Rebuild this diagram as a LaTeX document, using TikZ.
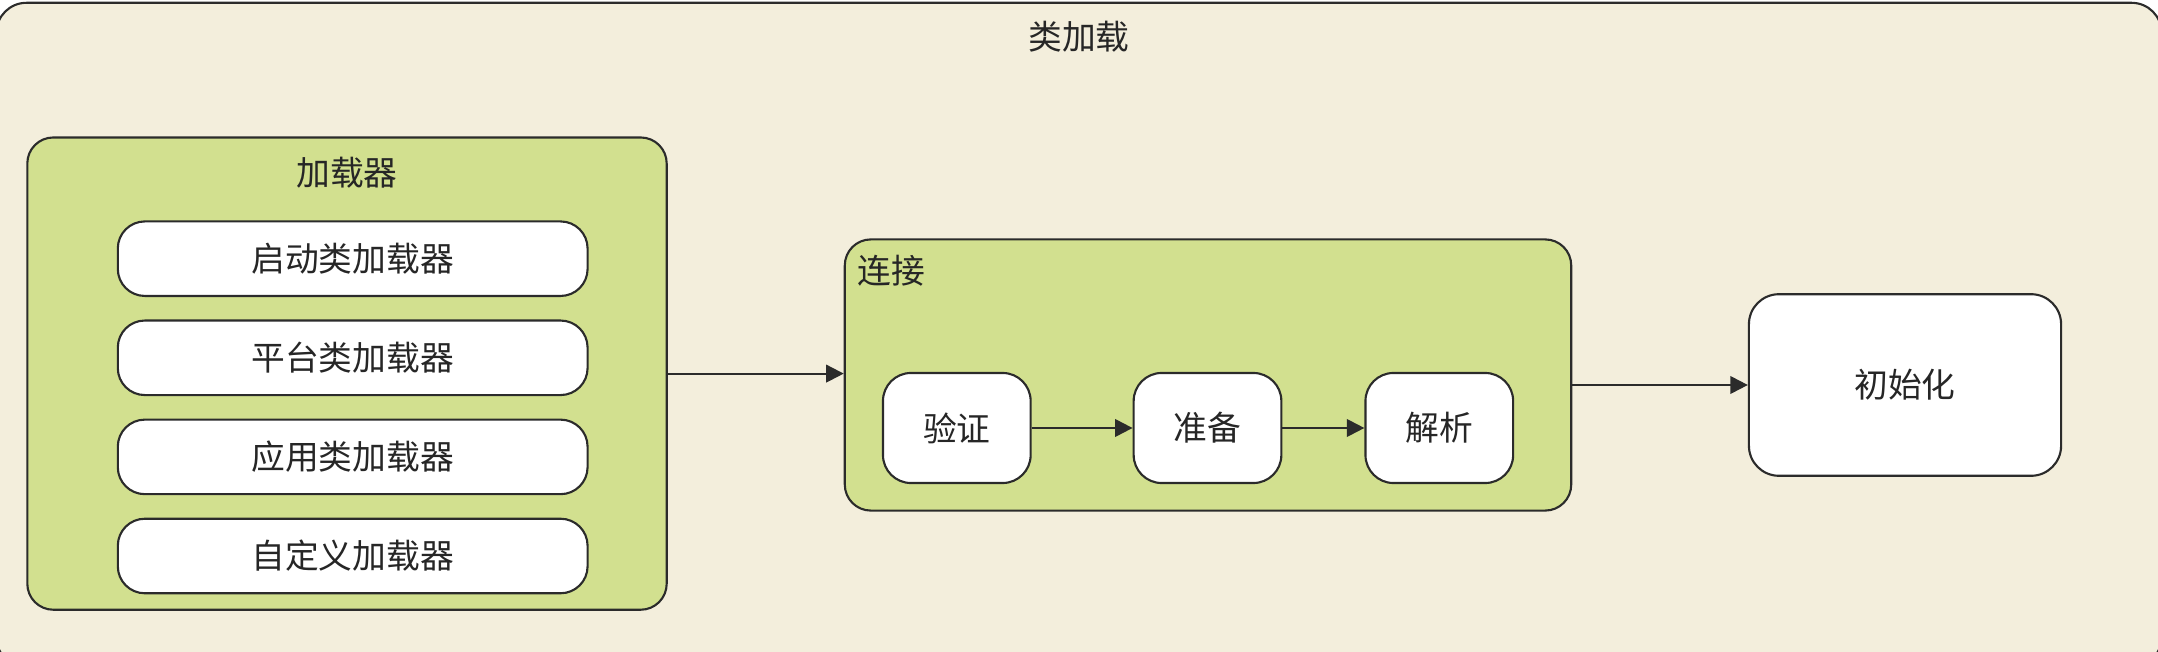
\documentclass[tikz,border=0pt]{standalone}
\usepackage{fontspec}
\newfontfamily\cjk{Noto Sans CJK SC}
\usepackage{xcolor}
\usepackage{tikz}
\usetikzlibrary{arrows.meta,positioning,calc}

\definecolor{bgbeige}{HTML}{F3EEDC}
\definecolor{grpgreen}{HTML}{D2E08F}
\definecolor{linedark}{HTML}{2B2B2B}
\definecolor{txtdark}{HTML}{262626}

\tikzset{
  grp/.style={draw=linedark, fill=grpgreen, rounded corners=0.26cm, line width=0.6pt, inner sep=0pt},
  loaderbox/.style={draw=linedark, fill=white, rounded corners=0.27cm, line width=0.6pt, inner sep=0pt,
    minimum width=4.695cm, minimum height=0.745cm},
  stagebox/.style={draw=linedark, fill=white, rounded corners=0.28cm, line width=0.6pt, inner sep=0pt,
    minimum width=1.476cm, minimum height=1.10cm},
  flow/.style={draw=linedark, line width=0.6pt, -{Triangle[length=5pt,width=5pt]}}
}

\begin{document}
\begin{tikzpicture}[x=0.01cm,y=-0.01cm,
    every node/.style={font=\cjk\fontsize{9.6}{11}\selectfont, text=txtdark}]
    \useasboundingbox (0,0) rectangle (2158,652);
    \clip (0,0) rectangle (2158,652);

    % outer frame
    \node[draw=linedark, fill=bgbeige, rounded corners=0.3cm, line width=0.6pt,
      minimum width=21.64cm, minimum height=6.64cm] (clsload) at (1079,335) {};
    \node (clsloadtitle) at (1079,37) {类加载};

    % loaders
    \node[grp, minimum width=6.39cm, minimum height=4.72cm] (loader) at (347,373.6) {};
    \node (loadertitle) at (347,173) {加载器};
    \node[loaderbox] (bootld) at (352.7,258.7) {启动类加载器};
    \node[loaderbox] (platld) at (352.7,357.8) {平台类加载器};
    \node[loaderbox] (appld) at (352.7,456.9) {应用类加载器};
    \node[loaderbox] (custld) at (352.7,556) {自定义加载器};

    % linking
    \node[grp, minimum width=7.26cm, minimum height=2.71cm] (link) at (1208,375) {};
    \node[anchor=west] (linktitle) at (845,271) {连接};
    \node[stagebox] (verify) at (956.8,428) {验证};
    \node[stagebox] (prepare) at (1207.5,428) {准备};
    \node[stagebox] (resolve) at (1439.3,428) {解析};

    \node[draw=linedark, fill=white, rounded corners=0.3cm, line width=0.6pt, inner sep=0pt,
      minimum width=3.12cm, minimum height=1.815cm] (init) at (1905,385) {初始化};

    \draw[flow] (loader.east) -- (loader.east -| link.west);
    \draw[flow] (verify) -- (prepare);
    \draw[flow] (prepare) -- (resolve);
    \draw[flow] (init.west -| link.east) -- (init.west);
\end{tikzpicture}
\end{document}
